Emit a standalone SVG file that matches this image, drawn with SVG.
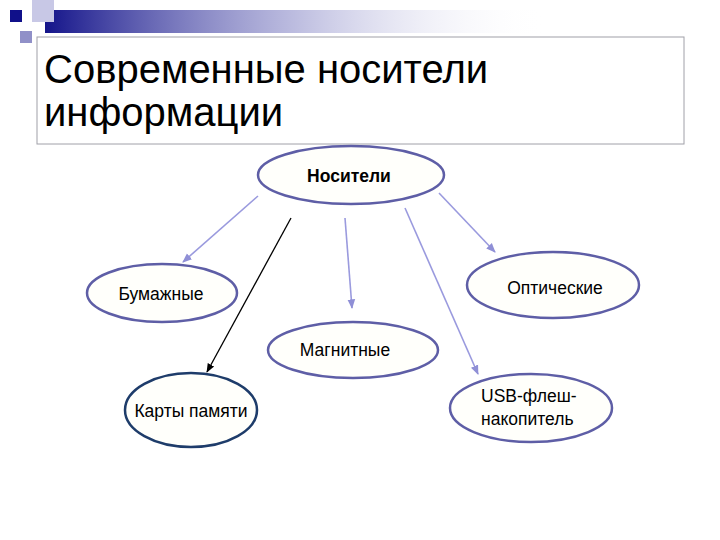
<svg xmlns="http://www.w3.org/2000/svg" width="720" height="540" viewBox="0 0 720 540">
<defs>
<linearGradient id="bar" x1="0" y1="0" x2="1" y2="0">
<stop offset="0" stop-color="#14148a"/>
<stop offset="0.5" stop-color="#7a7ac0" stop-opacity="0.5"/>
<stop offset="1" stop-color="#ffffff" stop-opacity="0"/>
</linearGradient>
<marker id="ah" viewBox="0 0 10 10" refX="9" refY="5" markerWidth="6" markerHeight="6" orient="auto">
<path d="M0,1 L10,5 L0,9 z" fill="#8f8fd6"/>
</marker>
<marker id="ahb" viewBox="0 0 10 10" refX="9" refY="5" markerWidth="7" markerHeight="7" orient="auto">
<path d="M0,1 L10,5 L0,9 z" fill="#000"/>
</marker>
<style>
.n{fill:#fffffb;stroke:#5e5ea6;stroke-width:2.5}
.t{font-family:"Liberation Sans",Arial,sans-serif;font-size:17.5px;fill:#000;text-anchor:middle}
.ts{font-family:"Liberation Sans",Arial,sans-serif;font-size:17.5px;fill:#000;text-anchor:start}
.c{stroke:#9a9ade;stroke-width:1.6;fill:none;marker-end:url(#ah)}
.h{font-family:"Liberation Sans",Arial,sans-serif;font-size:40px;fill:#000}
</style>
</defs>
<rect width="720" height="540" fill="#ffffff"/>
<g id="decor">
<rect x="45" y="10" width="500" height="23" fill="url(#bar)"/>
<rect x="32" y="0" width="22" height="22" fill="#c8c8e6"/>
<rect x="10" y="10" width="12" height="12" fill="#10108a"/>
<rect x="20" y="31" width="12" height="12" fill="#9090c8"/>
</g>
<g id="title">
<rect x="37" y="37" width="647" height="107" fill="#ffffff" stroke="#a0a0a8" stroke-width="1"/>
<text class="h" x="44" y="83">Современные носители</text>
<text class="h" x="44" y="126">информации</text>
</g>
<g id="connectors">
<line class="c" x1="258" y1="196" x2="183" y2="262"/>
<line class="c" x1="439" y1="193" x2="495" y2="252"/>
<line class="c" x1="345" y1="218" x2="352" y2="308"/>
<line class="c" x1="405" y1="208" x2="478" y2="374"/>
<line x1="291" y1="218" x2="207" y2="372" stroke="#000" stroke-width="1.3" marker-end="url(#ahb)"/>
</g>
<g id="n-nositeli">
<ellipse class="n" cx="351" cy="175" rx="93" ry="29"/>
<text class="t" x="349" y="182" font-weight="bold">Носители</text>
</g>
<g id="n-bumazhnye">
<ellipse class="n" cx="162" cy="293" rx="75" ry="29"/>
<text class="t" x="161" y="300">Бумажные</text>
</g>
<g id="n-opticheskie">
<ellipse class="n" cx="553" cy="285" rx="86" ry="33"/>
<text class="t" x="555" y="294">Оптические</text>
</g>
<g id="n-magnitnye">
<ellipse class="n" cx="353" cy="350" rx="85" ry="28"/>
<text class="t" x="345" y="356">Магнитные</text>
</g>
<g id="n-karty">
<ellipse cx="191" cy="410" rx="66" ry="37" fill="#fffffb" stroke="#1e3c6a" stroke-width="2.5"/>
<text class="t" x="191" y="417">Карты памяти</text>
</g>
<g id="n-usb">
<ellipse class="n" cx="531" cy="408" rx="81" ry="34"/>
<text class="ts" x="481" y="402">USB-флеш-</text>
<text class="ts" x="481" y="425">накопитель</text>
</g>
</svg>
